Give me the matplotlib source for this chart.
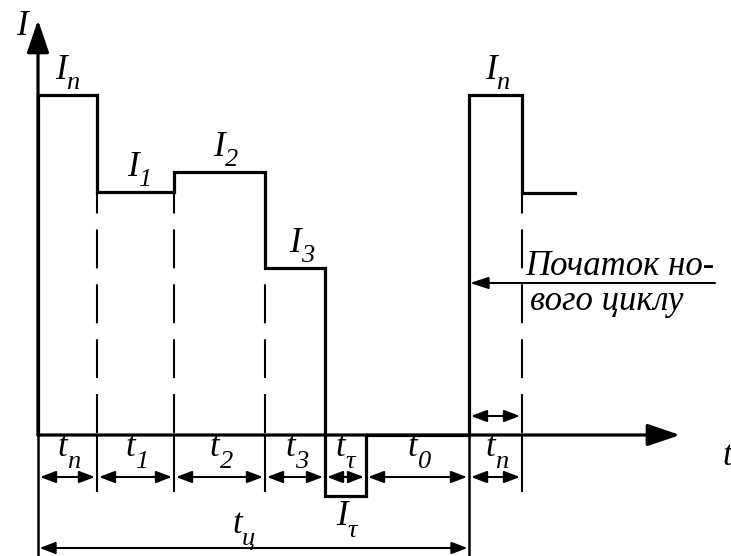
import numpy as np
import matplotlib
matplotlib.use("Agg")
import matplotlib.pyplot as plt
from matplotlib.patches import FancyArrowPatch

plt.rcParams['lines.scale_dashes'] = False

# Load duty cycle: interval names, their durations (s) and the current held (A)
interval_names = ['n', '1', '2', '3', 'τ', '0', 'n']
durations = [5.9, 7.7, 9.1, 6.0, 4.1, 10.3, 5.3]
currents = [3.40, 2.43, 2.63, 1.67, -0.61, 0.0, 3.40]
# start of the next cycle after the second start-up interval
tail_duration = 5.3
tail_current = 2.42
# current levels labelled above the curve: interval index -> (subscript, x shift)
level_labels = {0: ('n', -0.1), 1: ('1', 0.3), 2: ('2', 0.5), 3: ('3', 0.6), 6: ('n', 0.1)}

MAIN_FS = 25
SUB_FS = 19
FONT = 'Liberation Serif'

fig = plt.figure(figsize=(7.31, 5.56), dpi=100)
ax = fig.add_axes([0, 0, 1, 1])
ax.set_xlim(-3.8, 69.3)
ax.set_ylim(-1.21, 4.35)
ax.axis('off')

edges = np.concatenate([[0.0], np.cumsum(durations)])
t_end = edges[-1]
cycle_end = edges[-2]  # start of the next cycle

# step curve of the current
xs = [0.0]
ys = [0.0]
for i, c in enumerate(currents):
    xs += [edges[i], edges[i + 1]]
    ys += [c, c]
xs += [t_end, t_end + tail_duration]
ys += [tail_current, tail_current]
ax.plot(xs, ys, color='black', lw=2.3, solid_joinstyle='miter', zorder=3)

# axes with arrows
def axis_arrow(p0, p1):
    ax.add_patch(FancyArrowPatch(p0, p1, arrowstyle='-|>,head_length=2.0,head_width=0.68',
                                 mutation_scale=10, lw=2.3, color='black',
                                 shrinkA=0, shrinkB=0, zorder=4))

axis_arrow((0, 0), (0, 4.15))
axis_arrow((0, 0), (64.2, 0))

# dashed guides from the axis up to the lower of the two neighbouring levels
all_levels = currents + [tail_current]
for k in range(1, len(edges)):
    lo = min(all_levels[k - 1], all_levels[k])
    if lo > 0:
        ax.plot([edges[k], edges[k]], [0, lo], color='black', lw=1.5,
                linestyle=(38, (28, 11.5)), zorder=2)

# extension lines below the axis
tick_bottom = -0.56
for k in range(1, len(edges)):
    e = edges[k]
    if e == cycle_end:
        continue
    if currents[k - 1] < 0 or (k < len(currents) and currents[k] < 0):
        continue
    ax.plot([e, e], [0, tick_bottom], color='black', lw=1.5, zorder=2)
for e in (0.0, cycle_end):
    ax.plot([e, e], [0, -1.4], color='black', lw=1.8, zorder=2)

# dimension arrows
def dim_arrow(x0, x1, y, gap=0.2):
    ax.add_patch(FancyArrowPatch((x0 + gap, y), (x1 - gap, y),
                                 arrowstyle='<|-|>,head_length=0.95,head_width=0.36',
                                 mutation_scale=10, lw=1.5, color='black',
                                 shrinkA=0, shrinkB=0, zorder=4))

def sub_label(x, y_main, y_sub, main, sub, size=MAIN_FS, sub_size=SUB_FS):
    ax.text(x, y_main, main, ha='right', va='baseline', fontsize=size,
            family=FONT, style='italic')
    ax.text(x, y_sub, sub, ha='left', va='baseline', fontsize=sub_size,
            family=FONT, style='italic')

arrow_y = -0.42
for i, name in enumerate(interval_names):
    dim_arrow(edges[i], edges[i + 1], arrow_y)
    xc = 0.5 * (edges[i] + edges[i + 1])
    sub_label(xc, -0.21, -0.33, 't', name)

# overall cycle time
dim_arrow(0, cycle_end, -1.13, gap=0.15)
sub_label(20.4, -0.98, -1.10, 't', 'ц')

# start-up interval of the next cycle, marked above the axis
dim_arrow(cycle_end, t_end, 0.19)

# current level labels
for i, (name, shift) in level_labels.items():
    xc = 0.5 * (edges[i] + edges[i + 1])
    sub_label(xc + shift, currents[i] + 0.16, currents[i] + 0.06, 'I', name)

# braking current below the curve
i_tau = interval_names.index('τ')
sub_label(0.5 * (edges[i_tau] + edges[i_tau + 1]) + 0.2,
          currents[i_tau] - 0.29, currents[i_tau] - 0.41, 'I', 'τ')

# axis names
ax.text(-1.0, 4.0, 'I', ha='right', va='baseline', fontsize=MAIN_FS,
        family=FONT, style='italic')
ax.text(68.4, -0.30, 't', ha='left', va='baseline', fontsize=MAIN_FS,
        family=FONT, style='italic')

# note about the start of a new cycle
ax.add_patch(FancyArrowPatch((67.7, 1.52), (cycle_end + 0.1, 1.52),
                             arrowstyle='-|>,head_length=1.1,head_width=0.36',
                             mutation_scale=10, lw=1.5, color='black',
                             shrinkA=0, shrinkB=0, zorder=4))
ax.text(t_end + 0.3, 1.60, 'Початок но-', ha='left', va='baseline',
        fontsize=MAIN_FS, family=FONT, style='italic')
ax.text(t_end + 0.8, 1.25, 'вого циклу', ha='left', va='baseline',
        fontsize=MAIN_FS, family=FONT, style='italic')

fig.savefig('out.png', dpi=100, facecolor='white')
